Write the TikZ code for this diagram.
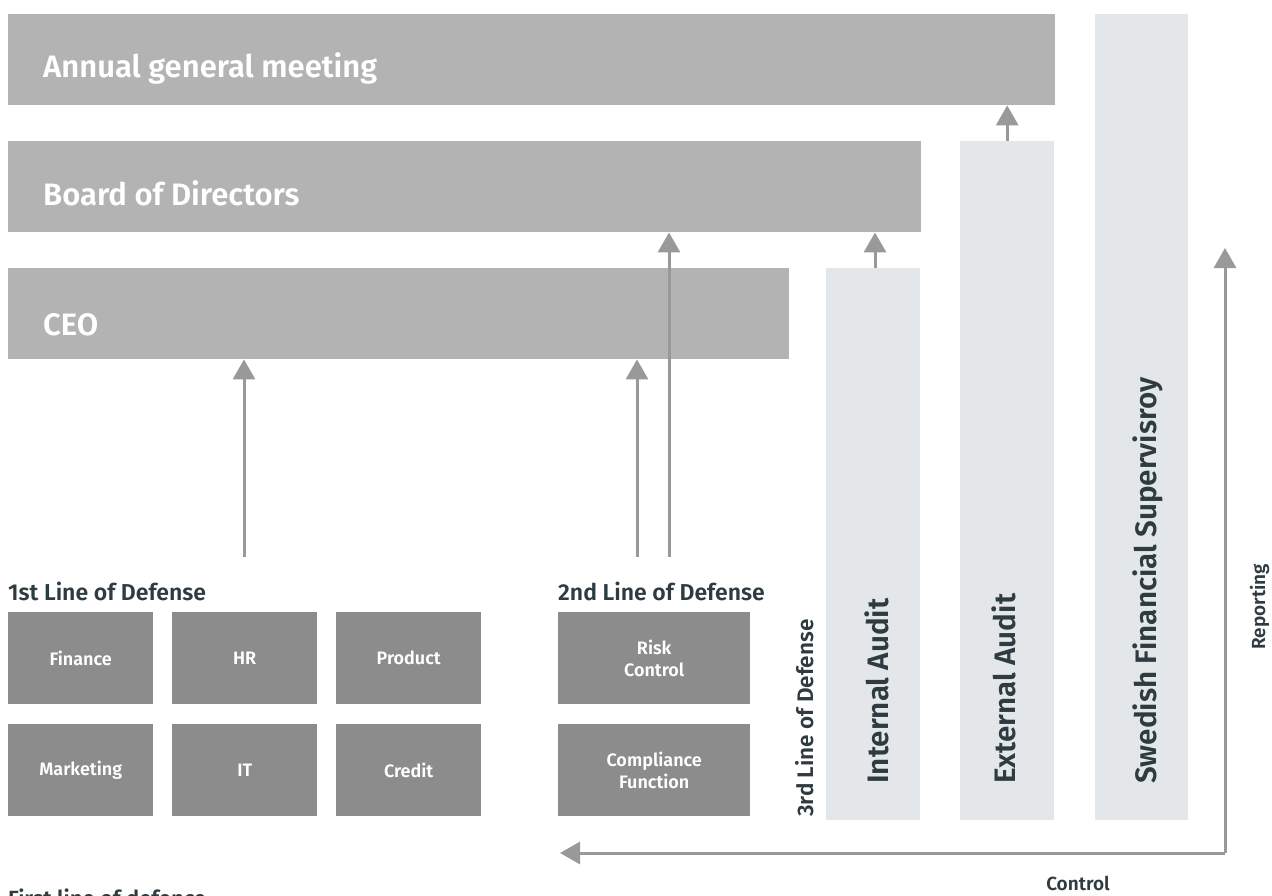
\documentclass[tikz,border=0pt]{standalone}
\usepackage{fontspec}
\setmainfont{Fira Sans}[BoldFont={Fira Sans SemiBold}]
\usetikzlibrary{arrows.meta}
\definecolor{barc}{HTML}{B3B3B3}
\definecolor{colc}{HTML}{E4E7EA}
\definecolor{boxc}{HTML}{8C8C8C}
\definecolor{arrc}{HTML}{999999}
\definecolor{txtc}{HTML}{2E3B40}
\tikzset{
  bar/.style={fill=barc, draw=none, anchor=north west, inner sep=0pt},
  col/.style={fill=colc, draw=none, anchor=north west, inner sep=0pt},
  unitbox/.style={fill=boxc, draw=none, minimum width=145pt, minimum height=92pt, inner sep=0pt, text=white, font=\bfseries\fontsize{18}{22}\selectfont, align=center, anchor=north west},
  bartext/.style={text=white, font=\bfseries\fontsize{31}{34}\selectfont, anchor=base west, inner sep=0pt},
  coltext/.style={text=txtc, font=\bfseries\fontsize{29.6}{33}\selectfont, rotate=90, anchor=base west, inner sep=0pt},
  head/.style={text=txtc, font=\bfseries\fontsize{23}{26}\selectfont, anchor=base west, inner sep=0pt},
  small/.style={text=txtc, font=\bfseries\fontsize{19}{22}\selectfont, inner sep=0pt},
  conn/.style={draw=arrc, line width=3pt, -{Triangle[width=22pt,length=20pt]}},
}
\begin{document}
\begin{tikzpicture}[x=1pt,y=-1pt]
\useasboundingbox (0,0) rectangle (1272,895);
\clip (0,0) rectangle (1272,895);
% bars
\node[bar, minimum width=1047pt, minimum height=91pt] (agm) at (8,14) {};
\node[bar, minimum width=913pt, minimum height=91pt] (board) at (8,141) {};
\node[bar, minimum width=781pt, minimum height=91pt] (ceo) at (8,268) {};
\node[bartext] (agmt) at (43,77) {Annual general meeting};
\node[bartext] (boardt) at (43,205) {Board of Directors};
\node[bartext] (ceot) at (43,335) {CEO};
% columns
\node[col, minimum width=94pt, minimum height=552pt] (ia) at (826,268) {};
\node[col, minimum width=94pt, minimum height=679pt] (ea) at (960,141) {};
\node[col, minimum width=93pt, minimum height=806pt] (sfs) at (1095,14) {};
\node[coltext] (iat) at (888,784) {Internal Audit};
\node[coltext] (eat) at (1015,784) {External Audit};
\node[coltext] (sfst) at (1156,784) {Swedish Financial Supervisroy};
\node[head, font=\bfseries\fontsize{22.5}{26}\selectfont, rotate=90] (h3) at (813,817) {3rd Line of Defense};
\node[small, rotate=90, anchor=base west] (rep) at (1265,650) {Reporting};
% headings
\node[head] (h1) at (8,600) {1st Line of Defense};
\node[head] (h2) at (558,600) {2nd Line of Defense};
% unit boxes
\node[unitbox] (fin) at (8,612) {Finance};
\node[unitbox] (hr) at (172,612) {HR};
\node[unitbox] (prod) at (336,612) {Product};
\node[unitbox] (mkt) at (8,724) {Marketing};
\node[unitbox] (it) at (172,724) {IT};
\node[unitbox] (cred) at (336,724) {\raisebox{-6pt}{Credit}};
\node[unitbox, minimum width=192pt] (risk) at (558,612) {Risk\\Control};
\node[unitbox, minimum width=192pt] (comp) at (558,724) {Compliance\\Function};
% arrows
\coordinate (a1) at (244,557);
\coordinate (a2) at (637,557);
\coordinate (a3) at (669,557);
\draw[conn] (a1) -- (a1 |- ceo.south);
\draw[conn] (a2) -- (a2 |- ceo.south);
\draw[conn] (a3) -- (a3 |- board.south);
\draw[conn] (ia.north -| 875,0) -- (board.south -| 875,0);
\draw[conn] (ea.north) -- (agm.south -| ea.north);
\coordinate (rb) at (1225,853);
\coordinate (rt) at (1225,248);
\coordinate (cl) at (560,853);
\draw[conn] (rb) -- (rt);
\draw[conn] (rb) -- (cl);
\node[small] (ctrl) at (1078,883) {Control};
\node[head, font=\bfseries\fontsize{22}{26}\selectfont, anchor=north west] (fld) at (8,889) {First line of defence};
\end{tikzpicture}
\end{document}
